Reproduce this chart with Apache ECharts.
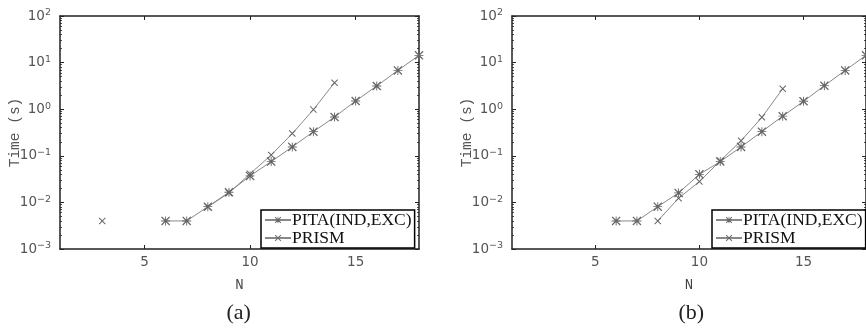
<!DOCTYPE html>
<html>
<head>
<meta charset="utf-8">
<script src="https://cdn.jsdelivr.net/npm/echarts@6/dist/echarts.min.js"></script>
<style>
html,body{margin:0;padding:0;background:#fff;}
#c{width:866px;height:329px;}
</style>
</head>
<body>
<div id="c"></div>
<script>
// ---- data ----
const nPitaA = [6,7,8,9,10,11,12,13,14,15,16,17,18];
const pitaA  = [0.004,0.004,0.0081,0.0165,0.037,0.075,0.155,0.33,0.68,1.5,3.15,6.8,14.3];
const nPrismA = [3,4,5,6,7,8,9,10,11,12,13,14];
const prismA  = [0.004,null,null,null,null,0.008,0.016,0.041,0.104,0.30,0.98,3.7];

const nPitaB = [6,7,8,9,10,11,12,13,14,15,16,17,18];
const pitaB  = [0.004,0.004,0.0081,0.016,0.040,0.075,0.155,0.33,0.71,1.48,3.2,6.8,14.3];
const nPrismB = [8,9,10,11,12,13,14];
const prismB  = [0.004,0.0123,0.028,0.078,0.21,0.67,2.75];

const xTicks = [5,10,15];
const minorTickVals = [];
[0.001,0.01,0.1,1,10].forEach(d=>{for(let k=2;k<=9;k++) minorTickVals.push(+(d*k).toPrecision(3));});
const seriesNames = ['PITA(IND,EXC)','PRISM'];
const panelLabels = ['(a)','(b)'];

// ---- styling ----
const AX = '#222';
const LINE = '#888';
const MARK = '#666';
const starPath = 'path://M4.5,0 L5.5,0 L5.5,10 L4.5,10 Z M0,4.5 L10,4.5 L10,5.5 L0,5.5 Z M0,1 L1,0 L5,4 L9,0 L10,1 L6,5 L10,9 L9,10 L5,6 L1,10 L0,9 L4,5 Z';
const xPath = 'path://M0,1 L1,0 L5,4 L9,0 L10,1 L6,5 L10,9 L9,10 L5,6 L1,10 L0,9 L4,5 Z';

const grids = [
  {left:60, top:16, width:359, height:233},
  {left:512, top:16, width:359, height:233}
];

function pairs(xs, ys){ return xs.map((x,i)=>[x, ys[i]==null ? '-' : ys[i]]); }

const xAxes = [], yAxes = [], series = [];
grids.forEach((g,gi)=>{
  xAxes.push({
    type:'value', gridIndex:gi, min:1, max:18, position:'bottom',
    name:'N', nameLocation:'middle', nameGap:29, nameMoveOverlap:false,
    nameTextStyle:{fontFamily:'Liberation Mono', fontSize:14, color:'#444'},
    axisLine:{show:true, onZero:false, lineStyle:{color:AX, width:1.5}},
    axisTick:{show:true, inside:true, length:4, customValues:xTicks, lineStyle:{color:AX}},
    axisLabel:{show:true, customValues:xTicks, margin:6, fontFamily:'DejaVu Sans', fontSize:13.5, color:'#555'},
    splitLine:{show:false}
  });
  xAxes.push({
    type:'value', gridIndex:gi, min:1, max:18, position:'top',
    axisLine:{show:true, onZero:false, lineStyle:{color:AX, width:1.5}},
    axisTick:{show:true, inside:true, length:4, customValues:xTicks, lineStyle:{color:AX}},
    axisLabel:{show:false}, splitLine:{show:false}
  });
  yAxes.push({
    type:'log', logBase:10, gridIndex:gi, min:0.001, max:100, position:'left',
    name:'Time (s)', nameLocation:'middle', nameGap:37, nameMoveOverlap:false,
    nameTextStyle:{fontFamily:'Liberation Mono', fontSize:14.5, color:'#555'},
    axisLine:{show:true, onZero:false, lineStyle:{color:AX, width:1.5}},
    axisTick:{show:true, inside:true, length:4, lineStyle:{color:AX}},
    axisLabel:{show:true, margin:9,
      formatter:v=>'{b|10}{s|'+Math.round(Math.log10(v)).toString().replace('-','\u2212')+'}',
      rich:{b:{fontFamily:'DejaVu Sans', fontSize:13.5, color:'#555', lineHeight:16},
            s:{fontFamily:'DejaVu Sans', fontSize:9.5, color:'#555', verticalAlign:'top', lineHeight:16, padding:[0,0,8,0]}}},
    splitLine:{show:false}
  });
  yAxes.push({
    type:'log', logBase:10, gridIndex:gi, min:0.001, max:100, position:'right',
    axisLine:{show:true, onZero:false, lineStyle:{color:AX, width:1.5}},
    axisTick:{show:true, inside:true, length:4, lineStyle:{color:AX}},
    axisLabel:{show:false}, splitLine:{show:false}
  });
  ['left','right'].forEach(pos=>{
    yAxes.push({
      type:'log', logBase:10, gridIndex:gi, min:0.001, max:100, position:pos,
      axisLine:{show:false},
      axisTick:{show:true, inside:true, length:2, customValues:minorTickVals, lineStyle:{color:AX, width:0.8}},
      axisLabel:{show:false}, splitLine:{show:false}
    });
  });
});

const data = [
  [pairs(nPitaA,pitaA), pairs(nPrismA,prismA)],
  [pairs(nPitaB,pitaB), pairs(nPrismB,prismB)]
];
data.forEach((d,gi)=>{
  series.push({
    name:seriesNames[0], type:'line', xAxisIndex:gi*2, yAxisIndex:gi*4,
    data:d[0], symbol:starPath, symbolSize:9, showAllSymbol:true,
    lineStyle:{color:LINE, width:1}, itemStyle:{color:MARK}, animation:false, connectNulls:false
  });
  series.push({
    name:seriesNames[1], type:'line', xAxisIndex:gi*2, yAxisIndex:gi*4,
    data:d[1], symbol:xPath, symbolSize:7, showAllSymbol:true,
    lineStyle:{color:LINE, width:1}, itemStyle:{color:MARK}, animation:false, connectNulls:false
  });
});

const legendCommon = {
  orient:'vertical', data:seriesNames, itemWidth:26, itemHeight:8, itemGap:0,
  backgroundColor:'#fff', borderColor:'#000', borderWidth:1.5, padding:[1,3,1,3],
  textStyle:{fontFamily:'Liberation Serif', fontSize:17.5, color:'#111', lineHeight:16.5, padding:[0,0,0,-4]},
  selectedMode:false
};

const option = {
  backgroundColor:'#fff',
  animation:false,
  grid:grids,
  xAxis:xAxes,
  yAxis:yAxes,
  series:series,
  legend:[
    Object.assign({}, legendCommon, {left:261, top:210}),
    Object.assign({}, legendCommon, {left:712, top:210})
  ],
  graphic:grids.map((g,i)=>({
    type:'text', left:g.left + 179.5 - 13, top:302,
    style:{text:panelLabels[i], font:'22px "Liberation Serif"', fill:'#222'}
  }))
};

const chart = echarts.init(document.getElementById('c'), null, {renderer:'canvas'});
chart.setOption(option);
</script>
</body>
</html>
